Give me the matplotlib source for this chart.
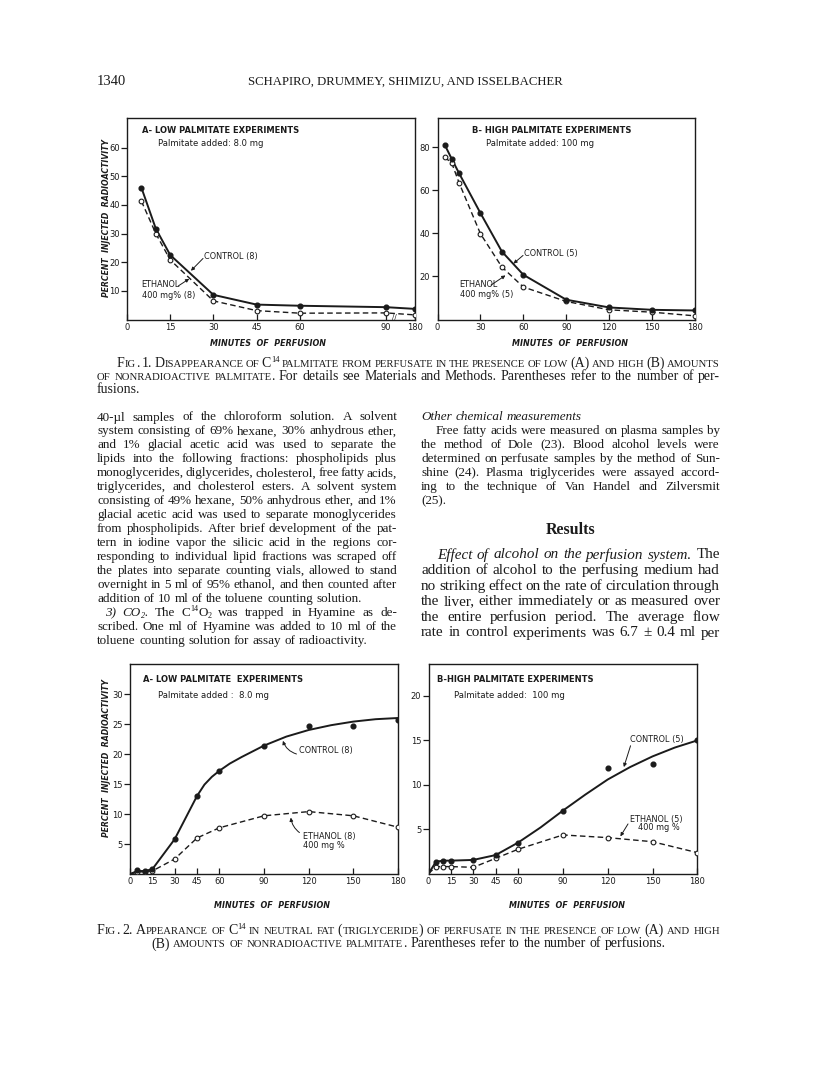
import re
import numpy as np
import matplotlib
matplotlib.use('Agg')
import matplotlib.pyplot as plt
from matplotlib.font_manager import FontProperties

plt.rcParams['font.family'] = ['DejaVu Sans']

W, H, DPI = 816, 1077, 100
INK = '#1b1b1b'
SERIF = 'Liberation Serif'
SANS = 'DejaVu Sans'

# ---------------- data ----------------
# Fig. 1 A - low palmitate (percent injected radioactivity remaining)
f1a_minutes = [5, 10, 15, 30, 45, 60, 90, 180]
f1a_control = [46.0, 31.7, 22.5, 8.6, 5.2, 4.8, 4.3, 3.7]
f1a_ethanol = [41.3, 30.0, 20.8, 6.5, 3.1, 2.2, 2.3, 1.6]
f1a_xticks = [0, 15, 30, 45, 60, 90, 180]
f1a_yticks = [10, 20, 30, 40, 50, 60]

# Fig. 1 B - high palmitate
f1b_minutes = [5, 10, 15, 30, 45, 60, 90, 120, 150, 180]
f1b_control = [81.3, 74.6, 68.1, 49.5, 31.6, 20.8, 9.2, 5.6, 4.5, 4.2]
f1b_ethanol = [75.5, 72.7, 63.7, 39.9, 24.4, 15.1, 8.4, 4.5, 3.4, 1.7]
f1b_xticks = [0, 30, 60, 90, 120, 150, 180]
f1b_yticks = [20, 40, 60, 80]

# Fig. 2 A - low palmitate (percent in neutral fat)
f2a_minutes = [5, 10, 15, 30, 45, 60, 90, 120, 150, 180]
f2a_control = [0.6, 0.5, 0.8, 5.8, 13.0, 17.2, 21.4, 24.7, 24.7, 25.7]
f2a_ethanol = [0.3, 0.4, 0.5, 2.5, 6.0, 7.7, 9.7, 10.4, 9.7, 7.8]
f2a_curve_minutes = [0, 5, 10, 15, 30, 45, 50, 55, 60, 67, 75, 90, 105, 120, 135, 150, 165, 180]
f2a_curve_control = [0, 0.5, 0.5, 0.8, 5.8, 13.0, 14.9, 16.2, 17.2, 18.4, 19.5, 21.4, 22.9, 24.0, 24.8, 25.4, 25.8, 26.0]
f2a_eth_line_minutes = [0, 5, 10, 15, 30, 45, 60, 90, 120, 150, 180]
f2a_eth_line = [0, 0.3, 0.4, 0.5, 2.5, 6.0, 7.7, 9.7, 10.4, 9.7, 7.8]
f2a_xticks = [0, 15, 30, 45, 60, 90, 120, 150, 180]
f2a_yticks = [5, 10, 15, 20, 25, 30]

# Fig. 2 B - high palmitate
f2b_minutes = [5, 10, 15, 30, 45, 60, 90, 120, 150, 180]
f2b_control = [1.35, 1.47, 1.47, 1.55, 2.1, 3.5, 7.1, 11.9, 12.4, 15.0]
f2b_ethanol = [0.8, 0.8, 0.8, 0.72, 1.73, 2.75, 4.36, 4.06, 3.6, 2.37]
f2b_curve_minutes = [0, 5, 10, 15, 30, 45, 60, 75, 90, 105, 120, 135, 150, 165, 180]
f2b_curve_control = [0, 1.35, 1.47, 1.47, 1.55, 2.1, 3.5, 5.2, 7.1, 8.9, 10.6, 12.0, 13.2, 14.2, 15.0]
f2b_eth_line_minutes = [0, 5, 10, 15, 30, 45, 60, 90, 120, 150, 180]
f2b_eth_line = [0, 0.8, 0.8, 0.8, 0.72, 1.73, 2.75, 4.36, 4.06, 3.6, 2.37]
f2b_xticks = [0, 15, 30, 45, 60, 90, 120, 150, 180]
f2b_yticks = [5, 10, 15, 20]

# ---------------- page text ----------------
header_page = "1340"
header_authors = "SCHAPIRO, DRUMMEY, SHIMIZU, AND ISSELBACHER"

fig1_caption = [
    ("[sc]Fig.[/sc] 1.  [sc]Disappearance of C[/sc]^{14} [sc]palmitate from perfusate in the presence of low[/sc] (A) [sc]and high[/sc] (B) [sc]amounts[/sc]", 20, True),
    ("[sc]of nonradioactive palmitate.[/sc]  For details see Materials and Methods.  Parentheses refer to the number of per-", 0, True),
    ("fusions.", 0, False),
]
fig2_caption = [
    ("[sc]Fig.[/sc] 2.  [sc]Appearance of C[/sc]^{14} [sc]in neutral fat[/sc] ([sc]triglyceride[/sc]) [sc]of perfusate in the presence of low[/sc] (A) [sc]and high[/sc]", 0, True),
    ("(B) [sc]amounts of nonradioactive palmitate.[/sc]  Parentheses refer to the number of perfusions.", 'center', False),
]
left_column = [
    ("40-µl samples of the chloroform solution.  A solvent", 0, True),
    ("system consisting of 69% hexane, 30% anhydrous ether,", 0, True),
    ("and 1% glacial acetic acid was used to separate the", 0, True),
    ("lipids into the following fractions: phospholipids plus", 0, True),
    ("monoglycerides, diglycerides, cholesterol, free fatty acids,", 0, True),
    ("triglycerides, and cholesterol esters.  A solvent system", 0, True),
    ("consisting of 49% hexane, 50% anhydrous ether, and 1%", 0, True),
    ("glacial acetic acid was used to separate monoglycerides", 0, True),
    ("from phospholipids.  After brief development of the pat-", 0, True),
    ("tern in iodine vapor the silicic acid in the regions cor-", 0, True),
    ("responding to individual lipid fractions was scraped off", 0, True),
    ("the plates into separate counting vials, allowed to stand", 0, True),
    ("overnight in 5 ml of 95% ethanol, and then counted after", 0, True),
    ("addition of 10 ml of the toluene counting solution.", 0, False),
    ("[i]3) CO_{2}.[/i]  The C^{14}O_{2} was trapped in Hyamine as de-", 8, True),
    ("scribed.  One ml of Hyamine was added to 10 ml of the", 0, True),
    ("toluene counting solution for assay of radioactivity.", 0, False),
]
right_column_top = [
    ("[i]Other chemical measurements[/i]", 0, False),
    ("Free fatty acids were measured on plasma samples by", 15, True),
    ("the method of Dole (23).  Blood alcohol levels were", 0, True),
    ("determined on perfusate samples by the method of Sun-", 0, True),
    ("shine (24).  Plasma triglycerides were assayed accord-", 0, True),
    ("ing to the technique of Van Handel and Zilversmit", 0, True),
    ("(25).", 0, False),
]
results_heading = "Results"
right_column_results = [
    ("[i]Effect of alcohol on the perfusion system.[/i]  The", 16, True),
    ("addition of alcohol to the perfusing medium had", 0, True),
    ("no striking effect on the rate of circulation through", 0, True),
    ("the liver, either immediately or as measured over", 0, True),
    ("the entire perfusion period.  The average flow", 0, True),
    ("rate in control experiments was 6.7 ± 0.4 ml per", 0, True),
]

# ---------------- figure ----------------
fig = plt.figure(figsize=(W / DPI, H / DPI), dpi=DPI)
fig.patch.set_facecolor('white')
renderer = fig.canvas.get_renderer()

_fp = {}
def fprop(size, italic=False, bold=False, family=SERIF):
    key = (round(size, 3), italic, bold, family)
    if key not in _fp:
        _fp[key] = FontProperties(family=family, size=size,
                                  style='italic' if italic else 'normal',
                                  weight='bold' if bold else 'normal')
    return _fp[key]

_tw = {}
def tw(s, prop):
    """advance width of s in pixels (bracketed between two bars)"""
    key = (s, id(prop))
    if key not in _tw:
        w1 = renderer.get_text_width_height_descent('|' + s + '|', prop, ismath=False)[0]
        w0 = renderer.get_text_width_height_descent('||', prop, ismath=False)[0]
        _tw[key] = w1 - w0
    return _tw[key]

TOK = re.compile(r'(\[/?(?:i|sc|b)\]|\^\{[^}]*\}|_\{[^}]*\}| )')
def parse(line):
    words, cur = [], []
    st = {'i': False, 'sc': False, 'b': False}
    for tok in TOK.split(line):
        if not tok:
            continue
        if tok == ' ':
            if cur:
                words.append(cur)
                cur = []
            continue
        m = re.fullmatch(r'\[(/?)(i|sc|b)\]', tok)
        if m:
            st[m.group(2)] = (m.group(1) == '')
            continue
        if tok.startswith('^{'):
            cur.append((tok[2:-1], dict(st), 'sup'))
        elif tok.startswith('_{'):
            cur.append((tok[2:-1], dict(st), 'sub'))
        else:
            cur.append((tok, dict(st), 'n'))
    if cur:
        words.append(cur)
    return words

def expand(word, size):
    out = []
    px = size * DPI / 72
    for text, st, pos in word:
        s, dy = size, 0.0
        if pos == 'sup':
            s, dy = size * 0.62, -0.36 * px
        elif pos == 'sub':
            s, dy = size * 0.62, 0.16 * px
        if st['sc']:
            for r in re.findall(r'[a-z]+|[^a-z]+', text):
                if re.fullmatch(r'[a-z]+', r):
                    out.append((r.upper(), fprop(s * 0.77, st['i'], st['b']), dy))
                else:
                    out.append((r, fprop(s, st['i'], st['b']), dy))
        else:
            out.append((text, fprop(s, st['i'], st['b']), dy))
    return out

def word_widths(line, size):
    words = [expand(w, size) for w in parse(line)]
    return words, [sum(tw(t, p) for t, p, _ in w) for w in words]

def natural_width(line, size, sp=0.18):
    words, widths = word_widths(line, size)
    return sum(widths) + sp * size * DPI / 72 * (len(words) - 1)

def fit_size(lines, x0, x1, base=10.0):
    best = 99
    for text, ind, just in lines:
        if not just:
            continue
        avail = x1 - x0 - (ind if isinstance(ind, (int, float)) else 0)
        nat = natural_width(text, base)
        best = min(best, base * avail / nat)
    return best

def draw_line(line, y, x0, x1, size, justify=True, align='left'):
    words, widths = word_widths(line, size)
    n = len(words)
    if justify and n > 1:
        gap = (x1 - x0 - sum(widths)) / (n - 1)
    else:
        gap = 0.26 * size * DPI / 72
    total = sum(widths) + gap * (n - 1)
    x = (x0 + x1) / 2 - total / 2 if align == 'center' else x0
    for w, wd in zip(words, widths):
        xx = x
        for t, p, dy in w:
            fig.text(xx / W, 1 - (y + dy) / H, t, fontproperties=p, color=INK,
                     va='baseline', ha='left')
            xx += tw(t, p)
        x += wd + gap

def draw_block(lines, y0, dy, x0, x1, size):
    for i, (text, ind, just) in enumerate(lines):
        y = y0 + i * dy
        if ind == 'center':
            draw_line(text, y, x0, x1, size, justify=False, align='center')
        else:
            draw_line(text, y, x0 + ind, x1, size, justify=just)

# page geometry (pixels)
LX0, LX1 = 97, 397
RX0, RX1 = 421, 720

# header
fig.text(97 / W, 1 - 85 / H, header_page, fontproperties=fprop(10.5), color=INK, va='baseline')
fig.text(405 / W, 1 - 84.5 / H, header_authors, fontproperties=fprop(9.2), color=INK,
         va='baseline', ha='center')

# captions
cap_size = min(fit_size(fig1_caption, LX0, RX1), fit_size(fig2_caption[:1], LX0, RX1))
draw_block(fig1_caption, 367, 12.8, LX0, RX1, cap_size)
draw_block(fig2_caption, 934, 13.4, LX0, RX1, cap_size)

# body text
body_size = min(fit_size(left_column, LX0, LX1), fit_size(right_column_top, RX0, RX1))
draw_block(left_column, 420.5, 13.95, LX0, LX1, body_size)
draw_block(right_column_top, 420.5, 13.95, RX0, RX1, body_size)
fig.text((RX0 + RX1) / 2 / W, 1 - 534.5 / H, results_heading, fontproperties=fprop(11.5, bold=True),
         color=INK, va='baseline', ha='center')
res_size = fit_size(right_column_results, RX0, RX1)
draw_block(right_column_results, 558.5, 15.6, RX0, RX1, res_size)

# ---------------- charts ----------------
def make_ax(l, r, t, b):
    ax = fig.add_axes([l / W, 1 - b / H, (r - l) / W, (b - t) / H])
    for s in ax.spines.values():
        s.set_linewidth(1.0)
        s.set_color(INK)
    ax.tick_params(axis='x', direction='in', length=4, width=0.9, pad=2.5,
                   labelsize=6, colors=INK)
    ax.tick_params(axis='y', direction='out', length=4, width=0.9, pad=1.2,
                   labelsize=6, colors=INK)
    ax.set_facecolor('none')
    return ax

def plot_pair(ax, t, ctrl, eth, ctrl_line=None, eth_line=None):
    if ctrl_line is None:
        ctrl_line = (t, ctrl)
    if eth_line is None:
        eth_line = (t, eth)
    ax.plot(*eth_line, color=INK, lw=1.0, ls=(0, (4, 2.4)), zorder=2)
    ax.plot(*ctrl_line, color=INK, lw=1.4, zorder=3)
    ax.plot(t, eth, ls='none', marker='o', ms=3.4, mfc='white', mec=INK, mew=0.8, zorder=4)
    ax.plot(t, ctrl, ls='none', marker='o', ms=3.4, mfc=INK, mec=INK, zorder=5)

def note(ax, x, y, s, size=5.9, ha='left', weight='normal'):
    ax.text(x, y, s, fontsize=size, ha=ha, va='center', color=INK, family=SANS, weight=weight)

def arrow(ax, tail, tip, rad=0.0):
    ax.annotate('', xy=tip, xytext=tail,
                arrowprops=dict(arrowstyle='-|>', color=INK, lw=0.7, mutation_scale=5,
                                shrinkA=0, shrinkB=0, connectionstyle=f'arc3,rad={rad}'))

def panel_titles(ax, title, sub, tx, ty, sx, sy):
    ax.text(tx, ty, title, transform=ax.transAxes, fontsize=6.0, weight='bold',
            color=INK, family=SANS, va='center', ha='left')
    ax.text(sx, sy, sub, transform=ax.transAxes, fontsize=6.1, color=INK,
            family=SANS, va='center', ha='left')

def xlabel(xc, yc):
    fig.text(xc / W, 1 - yc / H, 'MINUTES  OF  PERFUSION', fontsize=5.8, style='italic',
             weight='bold', color=INK, ha='center', va='center', family=SANS)

def ylabel(xc, yc):
    fig.text(xc / W, 1 - yc / H, 'PERCENT  INJECTED  RADIOACTIVITY', fontsize=5.6,
             style='italic', weight='bold', color=INK, ha='center', va='center',
             rotation=90, family=SANS)

# Fig 1 A (broken x axis: 90 -> 180 compressed)
def fwd(x):
    x = np.asarray(x, dtype=float)
    return np.where(x <= 90, x, 90 + (x - 90) / 9.0)

def inv(y):
    y = np.asarray(y, dtype=float)
    return np.where(y <= 90, y, 90 + (y - 90) * 9.0)

ax = make_ax(127, 415, 118, 319.5)
ax.set_xscale('function', functions=(fwd, inv))
ax.set_xlim(0, 180)
ax.set_ylim(0, 70.3)
ax.set_xticks(f1a_xticks)
ax.set_xticklabels([str(v) for v in f1a_xticks])
ax.set_yticks(f1a_yticks)
ax.set_yticklabels([str(v) for v in f1a_yticks])
plot_pair(ax, f1a_minutes, f1a_control, f1a_ethanol)
panel_titles(ax, 'A- LOW PALMITATE EXPERIMENTS', 'Palmitate added: 8.0 mg',
             0.051, 0.937, 0.107, 0.872)
note(ax, 26.8, 22.0, 'CONTROL (8)')
arrow(ax, (26.4, 21.3), (22.2, 17.0))
note(ax, 5.1, 12.3, 'ETHANOL')
note(ax, 5.1, 8.3, '400 mg% (8)')
arrow(ax, (17.8, 11.7), (21.6, 14.2))
ax.text(0.93, 0.012, '//', transform=ax.transAxes, fontsize=5, color=INK,
        ha='center', va='center', family=SANS)
xlabel(268, 343)
ylabel(106, 218)

# Fig 1 B
ax = make_ax(437.5, 695, 118, 319.5)
ax.set_xlim(0, 180)
ax.set_ylim(0, 93.7)
ax.set_xticks(f1b_xticks)
ax.set_xticklabels([str(v) for v in f1b_xticks])
ax.set_yticks(f1b_yticks)
ax.set_yticklabels([str(v) for v in f1b_yticks])
plot_pair(ax, f1b_minutes, f1b_control, f1b_ethanol)
panel_titles(ax, 'B- HIGH PALMITATE EXPERIMENTS', 'Palmitate added: 100 mg',
             0.134, 0.937, 0.19, 0.874)
note(ax, 60.3, 30.6, 'CONTROL (5)')
arrow(ax, (59.8, 29.8), (53.1, 26.0))
note(ax, 15.2, 16.5, 'ETHANOL')
note(ax, 15.9, 11.8, '400 mg% (5)')
arrow(ax, (37.4, 16.0), (47.5, 20.5))
xlabel(570, 343)

# Fig 2 A
ax = make_ax(130, 398, 664, 874)
ax.set_xlim(0, 180)
ax.set_ylim(0, 35)
ax.set_xticks(f2a_xticks)
ax.set_xticklabels([str(v) for v in f2a_xticks])
ax.set_yticks(f2a_yticks)
ax.set_yticklabels([str(v) for v in f2a_yticks])
plot_pair(ax, f2a_minutes, f2a_control, f2a_ethanol,
          ctrl_line=(f2a_curve_minutes, f2a_curve_control),
          eth_line=(f2a_eth_line_minutes, f2a_eth_line))
panel_titles(ax, 'A- LOW PALMITATE  EXPERIMENTS', 'Palmitate added :  8.0 mg',
             0.05, 0.927, 0.106, 0.852)
note(ax, 113.5, 20.5, 'CONTROL (8)')
arrow(ax, (111.8, 20.0), (102.7, 22.2), rad=-0.25)
note(ax, 116.5, 6.3, 'ETHANOL (8)')
note(ax, 116.5, 4.8, '400 mg %')
arrow(ax, (113.8, 6.9), (108.0, 9.4), rad=-0.2)
xlabel(272, 905)
ylabel(106.7, 758)

# Fig 2 B
ax = make_ax(428.5, 697.3, 664, 873.7)
ax.set_xlim(0, 180)
ax.set_ylim(0, 23.6)
ax.set_xticks(f2b_xticks)
ax.set_xticklabels([str(v) for v in f2b_xticks])
ax.set_yticks(f2b_yticks)
ax.set_yticklabels([str(v) for v in f2b_yticks])
plot_pair(ax, f2b_minutes, f2b_control, f2b_ethanol,
          ctrl_line=(f2b_curve_minutes, f2b_curve_control),
          eth_line=(f2b_eth_line_minutes, f2b_eth_line))
panel_titles(ax, 'B-HIGH PALMITATE EXPERIMENTS', 'Palmitate added:  100 mg',
             0.03, 0.927, 0.094, 0.852)
note(ax, 134.8, 15.1, 'CONTROL (5)')
arrow(ax, (135.3, 14.4), (130.8, 12.0))
note(ax, 134.8, 6.15, 'ETHANOL (5)')
note(ax, 140.6, 5.2, '400 mg %')
arrow(ax, (133.6, 5.6), (128.5, 4.2))
xlabel(567, 905)

fig.savefig('out.png', dpi=DPI, facecolor='white')
